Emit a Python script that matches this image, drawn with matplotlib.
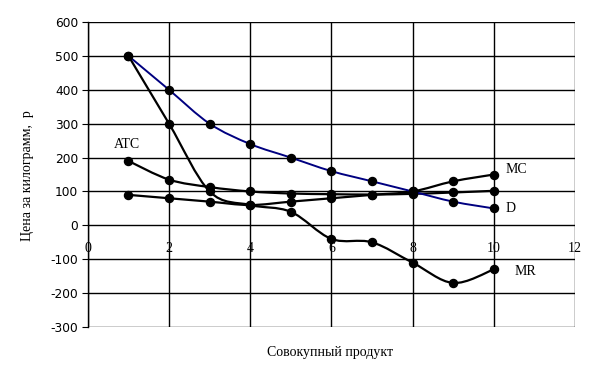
import numpy as np
import matplotlib.pyplot as plt
from matplotlib.path import Path
from matplotlib.patches import PathPatch

plt.rcParams['axes.unicode_minus'] = False

q = [1, 2, 3, 4, 5, 6, 7, 8, 9, 10]
d = [500, 400, 300, 240, 200, 160, 130, 100, 70, 50]
mr = [500, 300, 100, 60, 40, -40, -50, -110, -170, -130]
mc = [90, 80, 70, 60, 70, 80, 90, 100, 130, 150]
atc = [190, 135, 113, 100, 94, 92, 91, 93, 97, 102]

x_ticks = [0, 2, 4, 6, 8, 10, 12]
y_ticks = [-300, -200, -100, 0, 100, 200, 300, 400, 500, 600]


def smooth_path(xs, ys):
    # кривая Безье через все точки (как сглаживание в Excel)
    p = np.column_stack([xs, ys]).astype(float)
    n = len(p)
    verts = [p[0]]
    codes = [Path.MOVETO]
    for i in range(n - 1):
        p_prev = p[i - 1] if i > 0 else p[i]
        p_next2 = p[i + 2] if i + 2 < n else p[i + 1]
        c1 = p[i] + (p[i + 1] - p_prev) / 6
        c2 = p[i + 1] - (p_next2 - p[i]) / 6
        verts += [c1, c2, p[i + 1]]
        codes += [Path.CURVE4] * 3
    return Path(verts, codes)


fig = plt.figure(figsize=(6.02, 3.87), dpi=100)
ax = fig.add_axes([0.146, 0.155, 0.809, 0.788])

serif = 'Liberation Serif'

for ys, col, lw in [(mr, 'black', 1.6), (atc, 'black', 1.6), (mc, 'black', 1.6), (d, '#000080', 1.4)]:
    ax.add_patch(PathPatch(smooth_path(q, ys), fill=False, edgecolor=col, lw=lw, zorder=3))
    ax.plot(q, ys, 'o', color='black', markersize=5.8, zorder=4)

ax.set_xlim(0, 12)
ax.set_ylim(-300, 600)
ax.set_xticks(x_ticks)
ax.set_yticks(y_ticks)
ax.grid(True, color='black', lw=1)
ax.set_axisbelow(True)

ax.spines['bottom'].set_position(('data', 0))
ax.spines['bottom'].set_visible(False)
ax.spines['top'].set_visible(False)
ax.spines['right'].set_visible(False)
ax.spines['left'].set_linewidth(1)

ax.tick_params(axis='x', length=0, pad=12, labelsize=10)
for lab in ax.get_xticklabels():
    lab.set_fontfamily(serif)
ax.tick_params(axis='y', direction='out', length=4, labelsize=8.8, pad=3)
for lab in ax.get_yticklabels():
    lab.set_fontfamily('DejaVu Sans')

ax.text(0.65, 238, 'ATC', fontsize=10, family=serif, va='center', ha='left')
ax.text(10.3, 165, 'MC', fontsize=10, family=serif, va='center', ha='left')
ax.text(10.3, 50, 'D', fontsize=10, family=serif, va='center', ha='left')
ax.text(10.5, -135, 'MR', fontsize=10, family=serif, va='center', ha='left')

fig.text(0.548, 0.088, 'Совокупный продукт', fontsize=10, family=serif, ha='center', va='center')
fig.text(0.045, 0.545, 'Цена за килограмм,  р', fontsize=10, family=serif,
         ha='center', va='center', rotation=90)

fig.savefig('out.png', dpi=100)
